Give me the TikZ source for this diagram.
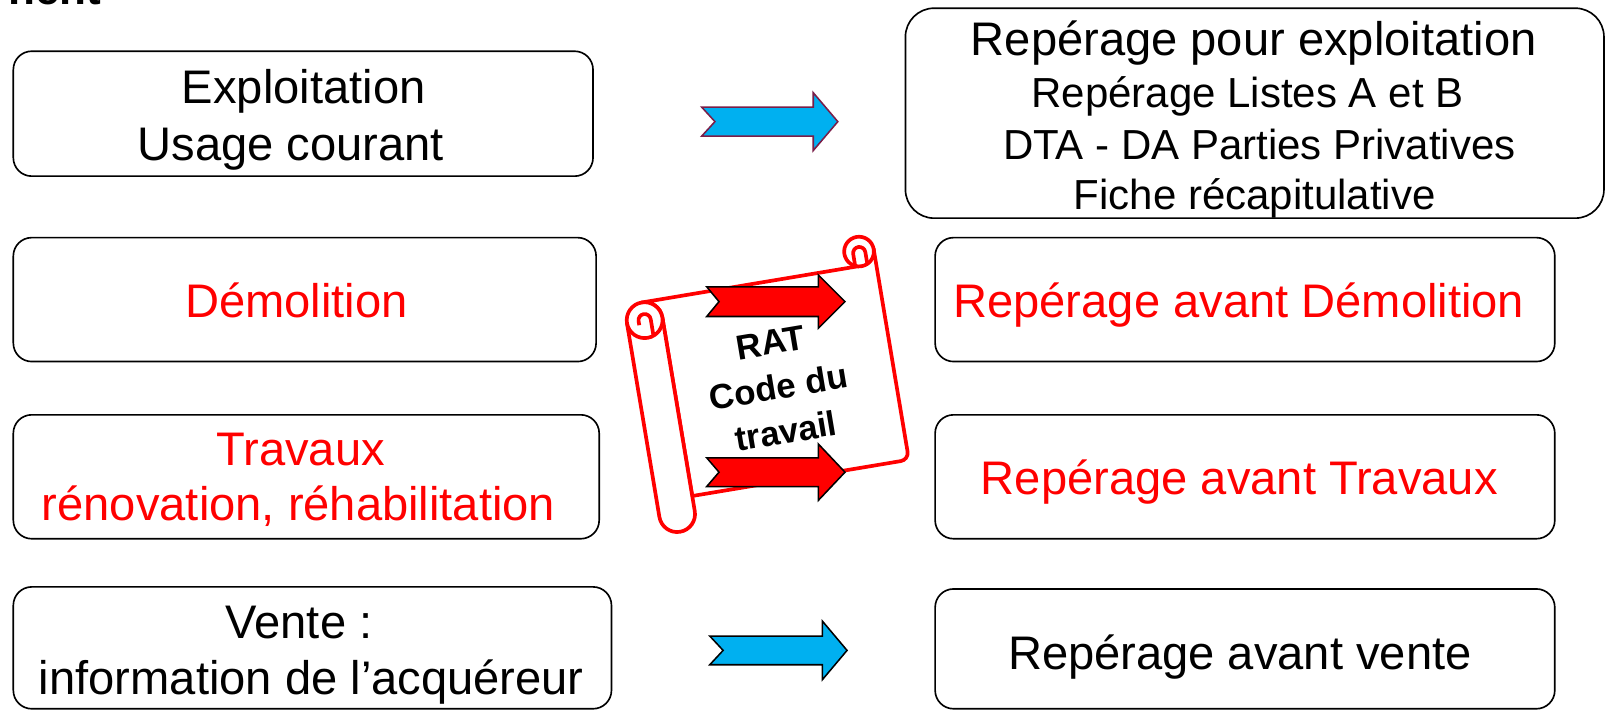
\documentclass[tikz,border=0pt]{standalone}
\usepackage{fontspec}
\setmainfont{Liberation Sans}
\definecolor{arrblue}{HTML}{00B0F0}
\definecolor{arredge}{HTML}{7A1E48}
\newcommand{\blockarrow}[8]{%
  \draw[#1] (#2,#4-#5) -- (#3-#8,#4-#5) -- (#3-#8,#4-#6) -- (#3,#4) -- (#3-#8,#4+#6) -- (#3-#8,#4+#5) -- (#2,#4+#5) -- (#2+#7,#4) -- cycle;}
\begin{document}
\begin{tikzpicture}[x=1pt,y=-1pt,
  box/.style={draw=black,line width=1.6pt,rounded corners=18pt,inner sep=0pt},
  bigtxt/.style={font=\fontsize{46}{55}\selectfont,anchor=base,inner sep=0pt},
  smalltxt/.style={font=\fontsize{41}{49}\selectfont,anchor=base,inner sep=0pt},
  redtxt/.style={text=red},
  bluearrow/.style={fill=arrblue,draw=arredge,line width=1.5pt,line join=miter},
  bluearrowk/.style={fill=arrblue,draw=black,line width=1.5pt,line join=miter},
  redarrow/.style={fill=red,draw=black,line width=1.5pt,line join=miter},
  scrollline/.style={draw=red,line width=3.6pt,fill=white,line join=round}]
\useasboundingbox (0,0) rectangle (1568,693.2);

% cut title
\node[anchor=base west,inner sep=0pt,font=\fontsize{43}{50}\selectfont\bfseries] (title) at (8,4.5) {nent};

% left boxes
\node[box,minimum width=566pt,minimum height=122pt] (e) at (296,111) {};
\node[box,minimum width=569pt,minimum height=121pt] (d) at (297.5,292.5) {};
\node[box,minimum width=572pt,minimum height=121pt] (t) at (299,465.5) {};
\node[box,minimum width=584pt,minimum height=119pt] (v) at (305,632.5) {};
% right boxes
\node[box,rounded corners=28pt,minimum width=682pt,minimum height=205pt] (re) at (1225,110.5) {};
\node[box,minimum width=605pt,minimum height=121pt] (rd) at (1215.5,292.5) {};
\node[box,minimum width=605pt,minimum height=121pt] (rt) at (1215.5,465.5) {};
\node[box,minimum width=605pt,minimum height=117pt] (rv) at (1215.5,633.5) {};

% texts left
\node[bigtxt] (e1) at (296.5,101.5) {Exploitation};
\node[bigtxt] (e2) at (284,156.5) {Usage courant};
\node[bigtxt,redtxt] (d1) at (289.5,309.5) {Démolition};
\node[bigtxt,redtxt] (t1) at (293.5,454) {Travaux};
\node[bigtxt,redtxt] (t2) at (291.5,508.5) {rénovation, réhabilitation};
\node[bigtxt] (v1) at (292,623) {Vente :};
\node[bigtxt] (v2) at (304,678) {information de l’acquéreur};
% texts right
\node[bigtxt] (re1) at (1224,54.5) {Repérage pour exploitation};
\node[smalltxt] (re2) at (1218,104.5) {Repérage Listes A et B};
\node[smalltxt] (re3) at (1229.5,156) {DTA - DA Parties Privatives};
\node[smalltxt] (re4) at (1225,205) {Fiche récapitulative};
\node[bigtxt,redtxt] (rd1) at (1209.5,309.5) {Repérage avant Démolition};
\node[bigtxt,redtxt] (rt1) at (1210,483) {Repérage avant Travaux};
\node[bigtxt] (rv1) at (1210.5,654) {Repérage avant vente};

% blue block arrows
\blockarrow{bluearrow}{685}{818}{118.75}{14.25}{28.25}{13}{24}
\blockarrow{bluearrowk}{693}{827}{635}{14}{28.5}{13}{24}

% scroll
\begin{scope}[shift={(742.2,380.9)},rotate=9.5]
  \path[scrollline] (-100,-103.5) -- (117.5,-103.5) arc[start angle=90,end angle=0,radius=14.5]
     -- (132,83) arc[start angle=0,end angle=90,radius=8] -- (-82.5,91) -- (-82.5,-86)
     arc[start angle=0,end angle=-90,radius=17.5] -- cycle;
  \path[scrollline] (-117.5,-86) -- (-117.5,106) arc[start angle=180,end angle=0,radius=17.5] -- (-82.5,-86) -- cycle;
  \path[scrollline] (-100,-86) circle[radius=17.5];
  \path[scrollline] (117.5,-117.5) circle[radius=14.5];
  \draw[red,line width=3.6pt,line join=round] (111.5,-104) -- (111.5,-116) arc[start angle=180,end angle=360,radius=6] -- (123.5,-104);
  \draw[red,line width=3.6pt,line join=round] (-94,-70) -- (-94,-86) arc[start angle=0,end angle=-180,radius=6] -- (-106,-82);
\end{scope}

% red block arrows
\blockarrow{redarrow}{690}{825}{294.5}{14.5}{26}{12}{26}
\blockarrow{redarrow}{690}{825}{461}{14}{27.5}{12}{26}

% scroll text
\node[rotate=9.5,align=center,inner sep=0pt,font=\fontsize{34}{44}\selectfont\bfseries] (rat) at (760,378) {RAT\\Code du\\travail};
\end{tikzpicture}
\end{document}
